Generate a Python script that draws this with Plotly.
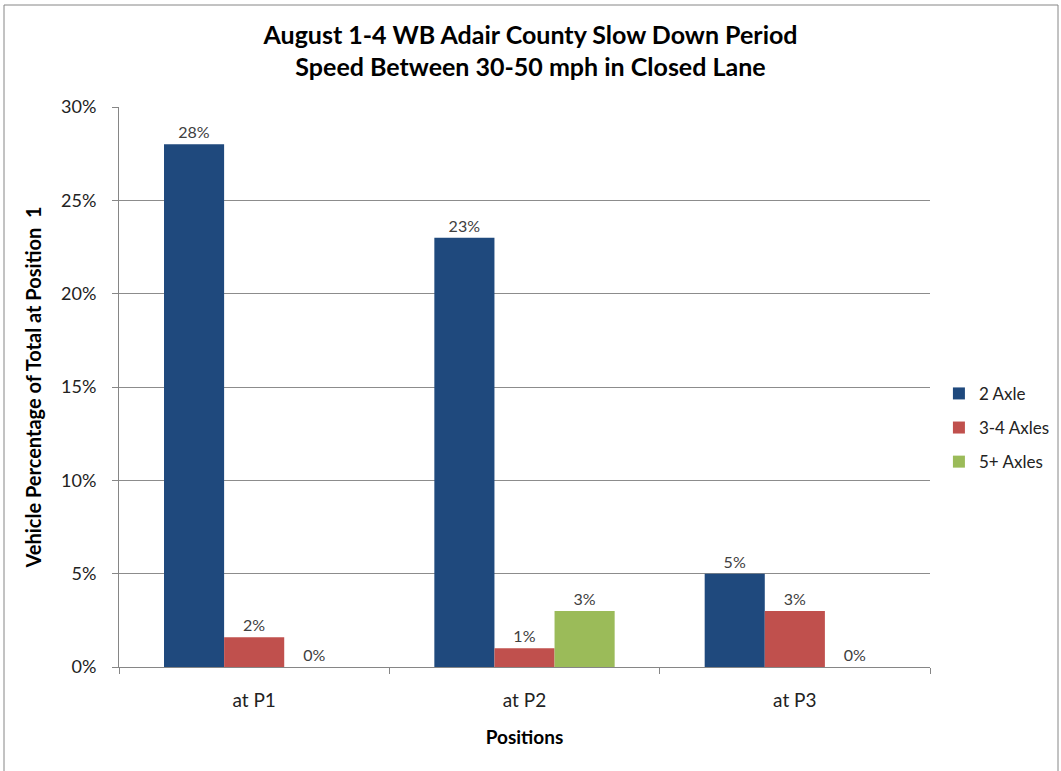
import plotly.graph_objects as go

categories = ["at P1", "at P2", "at P3"]
series_names = ["2 Axle", "3-4 Axles", "5+ Axles"]
axle2 = [0.28, 0.23, 0.05]
axle34 = [0.016, 0.010, 0.030]
axle5 = [0.0, 0.030, 0.0]
labels2 = ["28%", "23%", "5%"]
labels34 = ["2%", "1%", "3%"]
labels5 = ["0%", "3%", "0%"]
colors = ["#1F497D", "#C0504D", "#9BBB59"]
y_ticks = [0, 0.05, 0.10, 0.15, 0.20, 0.25, 0.30]
y_tick_text = ["0%", "5%", "10%", "15%", "20%", "25%", "30%"]

FONT = "Lato, 'Open Sans', sans-serif"

fig = go.Figure()
for i, (name, vals, labs, col) in enumerate(zip(series_names, [axle2, axle34, axle5],
                                 [labels2, labels34, labels5], colors)):
    fig.add_trace(go.Bar(
        x=categories, y=vals, name=name, marker_color=col,
        marker_line_width=0, legendgroup=f"g{i}",
        text=labs, textposition="outside", cliponaxis=False,
        textfont=dict(family=FONT, size=16, color="#404040"),
    ))

fig.update_layout(
    width=1061, height=771,
    paper_bgcolor="white", plot_bgcolor="white",
    margin=dict(l=119, r=131, t=107, b=104, autoexpand=False),
    barmode="group", bargap=0.333, bargroupgap=0,
    font=dict(family=FONT, color="#404040"),
    title=dict(
        text="<b>August 1-4 WB Adair County Slow Down Period<br>Speed Between 30-50 mph in Closed Lane</b>",
        x=0.5, xanchor="center", y=0.943, yanchor="middle",
        font=dict(family=FONT, size=25, color="#000000"),
    ),
    legend=dict(
        x=1.011, xanchor="left", y=0.427, yanchor="middle",
        font=dict(family=FONT, size=17, color="#222222"),
        tracegroupgap=9, itemwidth=30,
    ),
)

fig.update_xaxes(
    showline=True, linecolor="#868686", linewidth=1,
    ticks="outside", tickson="boundaries", ticklen=6, tickcolor="#868686",
    ticklabelstandoff=16,
    tickfont=dict(family=FONT, size=19, color="#222222"),
    title=dict(text="<b>Positions</b>", font=dict(family=FONT, size=19, color="#000000"), standoff=20),
    showgrid=False,
)
fig.update_yaxes(
    range=[0, 0.30], tickvals=y_ticks, ticktext=y_tick_text,
    showline=True, linecolor="#868686", linewidth=1,
    ticks="outside", ticklen=6, tickcolor="#868686",
    ticklabelstandoff=12,
    showgrid=True, gridcolor="#8C8C8C", gridwidth=1,
    tickfont=dict(family=FONT, size=18, color="#222222"),
    title=dict(text="<b>Vehicle Percentage of Total at Position  1</b>",
               font=dict(family=FONT, size=20, color="#000000"), standoff=14),
    zeroline=False,
)

fig.add_shape(type="rect", xref="paper", yref="paper",
              x0=(4 - 119) / 811, x1=(1058 - 119) / 811,
              y0=(667 - 790) / 560, y1=(667 - 5) / 560,
              line=dict(color="#868686", width=1), fillcolor="rgba(0,0,0,0)",
              layer="below")

fig.write_html("out.html", config={"displayModeBar": False},
               post_script="document.body.style.margin='0';document.body.style.overflow='hidden';")
